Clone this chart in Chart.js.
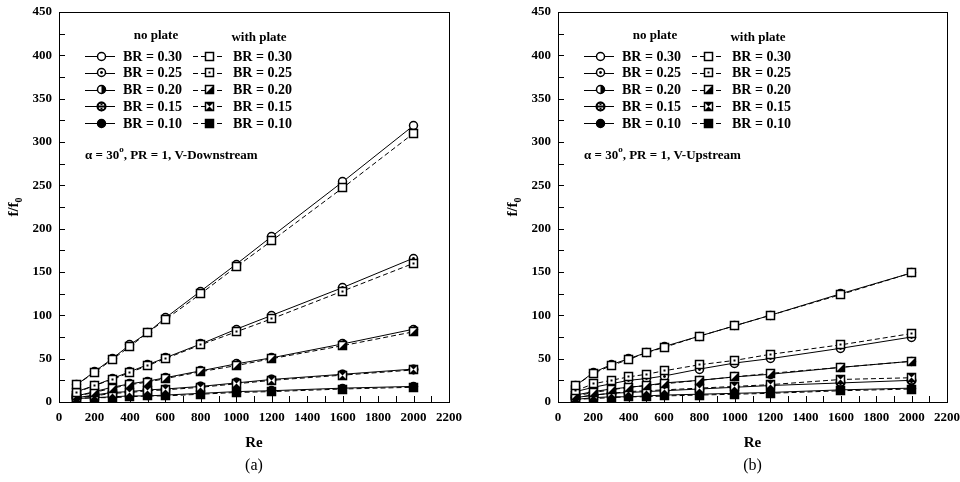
<!DOCTYPE html>
<html>
<head>
<meta charset="utf-8">
<script src="https://cdn.jsdelivr.net/npm/chart.js@4.4.1/dist/chart.umd.min.js"></script>
<style>
  html, body { margin: 0; padding: 0; background: #fff; }
  #wrap { position: relative; width: 960px; height: 482px; }
  .panel { position: absolute; top: 0; width: 480px; height: 482px; }
</style>
</head>
<body>
<div id="wrap">
  <div class="panel" style="left:0"><canvas id="chart-a" width="480" height="482"></canvas></div>
  <div class="panel" style="left:480px"><canvas id="chart-b" width="480" height="482"></canvas></div>
</div>
<script>
// Reynolds numbers (x axis)
const RE = [100, 200, 300, 400, 500, 600, 800, 1000, 1200, 1600, 2000];
const BR_LABELS = ['BR = 0.30', 'BR = 0.25', 'BR = 0.20', 'BR = 0.15', 'BR = 0.10'];
const Y_TICKS = [0, 50, 100, 150, 200, 250, 300, 350, 400, 450];
const X_TICKS = [0, 200, 400, 600, 800, 1000, 1200, 1400, 1600, 1800, 2000, 2200];

// (a) V-Downstream, f/f0
const A_NO_030 = [20, 35, 50, 66, 80, 97, 128, 159, 191, 254, 319];
const A_NO_025 = [12, 19, 27, 35, 43, 51, 67, 84, 100, 132, 166];
const A_NO_020 = [7, 12, 17, 21, 24, 28, 36, 44, 51, 67, 84];
const A_NO_015 = [5, 8, 11, 12, 14, 15, 18, 22, 26, 32, 38];
const A_NO_010 = [4, 5, 6, 7, 7, 8, 10, 12, 13, 16, 18];
const A_WP_030 = [20, 34, 49, 64, 80, 95, 125, 156, 186, 247, 310];
const A_WP_025 = [11, 19, 26, 34, 42, 50, 66, 81, 96, 128, 160];
const A_WP_020 = [7, 11, 16, 20, 23, 27, 35, 42, 50, 65, 81];
const A_WP_015 = [5, 7, 10, 11, 13, 14, 17, 21, 25, 31, 37];
const A_WP_010 = [4, 5, 5, 6, 7, 7, 9, 11, 12, 15, 17];

// (b) V-Upstream, f/f0
const B_NO_030 = [19, 34, 43, 50, 57, 64, 76, 88, 100, 125, 149];
const B_NO_025 = [12, 17, 21, 25, 27, 30, 38, 45, 50, 62, 75];
const B_NO_020 = [8, 12, 15, 17, 19, 22, 25, 29, 32, 40, 47];
const B_NO_015 = [5, 8, 10, 11, 12, 13, 15, 17, 19, 22, 25];
const B_NO_010 = [3, 5, 6, 6, 7, 8, 9, 10, 11, 14, 16];
const B_WP_030 = [19, 33, 42, 49, 57, 63, 76, 88, 100, 124, 149];
const B_WP_025 = [13, 21, 25, 29, 32, 36, 43, 48, 55, 66, 79];
const B_WP_020 = [7, 11, 14, 17, 19, 21, 25, 29, 33, 40, 47];
const B_WP_015 = [5, 8, 10, 12, 13, 14, 16, 18, 20, 26, 28];
const B_WP_010 = [3, 4, 5, 6, 6, 7, 8, 9, 10, 13, 15];

const SERIF = "'Liberation Serif', 'Times New Roman', serif";

// small canvases used as point styles (and reused in the legend)
function makeMarker(kind) {
    const c = document.createElement('canvas');
    c.width = 11; c.height = 11;
    const g = c.getContext('2d');
    const m = 5.5, r = 4;
    g.lineWidth = 1.5;
    g.strokeStyle = '#000';
    g.fillStyle = '#fff';
    if (kind.startsWith('c')) {
        g.beginPath(); g.arc(m, m, r, 0, Math.PI * 2);
        g.fillStyle = kind === 'c-fill' ? '#000' : '#fff';
        g.fill(); g.stroke();
        g.fillStyle = '#000';
        if (kind === 'c-dot') {
            g.beginPath(); g.arc(m, m, 1.4, 0, Math.PI * 2); g.fill();
        } else if (kind === 'c-half') {
            g.beginPath(); g.arc(m, m, r, -Math.PI / 2, Math.PI / 2); g.closePath(); g.fill();
        } else if (kind === 'c-bar') {
            g.lineWidth = 2;
            g.beginPath(); g.arc(m, m, r, 0, Math.PI * 2); g.stroke();
            g.beginPath(); g.moveTo(m - r, m); g.lineTo(m + r, m); g.stroke();
            g.fillRect(m - 1, m - 3, 2, 1.6);
            g.fillRect(m - 1, m + 1.4, 2, 1.6);
        }
    } else {
        const x0 = m - r, s = r * 2;
        g.fillStyle = kind === 's-fill' ? '#000' : '#fff';
        g.fillRect(x0, x0, s, s);
        g.strokeRect(x0, x0, s, s);
        g.fillStyle = '#000';
        if (kind === 's-dot') {
            g.fillRect(m - 1, m - 1, 2, 2);
        } else if (kind === 's-tri') {
            g.beginPath(); g.moveTo(x0 + s, x0); g.lineTo(x0 + s, x0 + s); g.lineTo(x0, x0 + s); g.closePath(); g.fill();
        } else if (kind === 's-bow') {
            g.beginPath(); g.moveTo(x0, x0); g.lineTo(x0 + s, x0); g.lineTo(m, m); g.closePath(); g.fill();
            g.beginPath(); g.moveTo(x0, x0 + s); g.lineTo(x0 + s, x0 + s); g.lineTo(m, m); g.closePath(); g.fill();
        }
    }
    return c;
}

const NO_MARKERS = ['c-open', 'c-dot', 'c-half', 'c-bar', 'c-fill'].map(makeMarker);
const WP_MARKERS = ['s-open', 's-dot', 's-tri', 's-bow', 's-fill'].map(makeMarker);

function series(values, marker, dashed) {
    return {
        data: values.map((v, i) => ({ x: RE[i], y: v })),
        borderColor: '#000',
        borderWidth: 1,
        borderDash: dashed ? [5, 3] : [],
        pointStyle: marker,
        fill: false,
        tension: 0,
    };
}

// draws frame, inward ticks, axis titles, caption, legend and note
const decorPlugin = {
    id: 'decor',
    beforeDatasetsDraw(chart) {
        // keep the marker images crisp at fractional positions
        chart.ctx.imageSmoothingEnabled = false;
    },
    afterDatasetsDraw(chart) {
        chart.ctx.imageSmoothingEnabled = true;
    },
    afterDraw(chart, args, opts) {
        const { ctx, chartArea: a, scales } = chart;
        const xs = scales.x, ys = scales.y;
        ctx.save();
        ctx.strokeStyle = '#000';
        ctx.lineWidth = 1;
        ctx.strokeRect(Math.round(a.left) + 0.5, Math.round(a.top) + 0.5,
            Math.round(a.right - a.left), Math.round(a.bottom - a.top));

        ctx.beginPath();
        for (let v = 0; v <= 450; v += 25) {
            const py = Math.round(ys.getPixelForValue(v)) + 0.5;
            ctx.moveTo(a.left, py); ctx.lineTo(a.left + 6, py);
        }
        for (let v = 0; v <= 2200; v += 100) {
            const px = Math.round(xs.getPixelForValue(v)) + 0.5;
            ctx.moveTo(px, a.bottom); ctx.lineTo(px, a.bottom - 6);
        }
        ctx.stroke();

        ctx.fillStyle = '#000';
        const midX = (a.left + a.right) / 2;
        ctx.textAlign = 'center';
        ctx.textBaseline = 'middle';
        ctx.font = 'bold 15px ' + SERIF;
        ctx.fillText('Re', midX, a.bottom + 41);
        ctx.font = '16px ' + SERIF;
        ctx.fillText(opts.tag, midX, a.bottom + 64);

        // y title f/f0
        ctx.save();
        ctx.translate(a.left - 45, (a.top + a.bottom) / 2);
        ctx.rotate(-Math.PI / 2);
        ctx.font = 'bold 15px ' + SERIF;
        const w1 = ctx.measureText('f/f').width;
        ctx.font = 'bold 10px ' + SERIF;
        const w2 = ctx.measureText('0').width;
        ctx.textAlign = 'left';
        ctx.font = 'bold 15px ' + SERIF;
        ctx.fillText('f/f', -(w1 + w2) / 2, 0);
        ctx.font = 'bold 10px ' + SERIF;
        ctx.fillText('0', -(w1 + w2) / 2 + w1, 5);
        ctx.restore();

        // legend
        const L = a.left, T = a.top;
        ctx.font = 'bold 13px ' + SERIF;
        ctx.textAlign = 'center';
        ctx.fillText('no plate', L + 97, T + 24);
        ctx.fillText('with plate', L + 200, T + 26);
        ctx.textAlign = 'left';
        ctx.font = 'bold 14px ' + SERIF;
        for (let i = 0; i < BR_LABELS.length; i++) {
            const ry = T + 44 + i * 16.8;
            const py = Math.round(ry) + 0.5;
            ctx.setLineDash([]);
            ctx.beginPath(); ctx.moveTo(L + 26, py); ctx.lineTo(L + 56, py); ctx.stroke();
            ctx.setLineDash([5, 3]);
            ctx.beginPath(); ctx.moveTo(L + 134, py); ctx.lineTo(L + 164, py); ctx.stroke();
            ctx.setLineDash([]);
            ctx.drawImage(NO_MARKERS[i], Math.round(L + 42 - 5.5), Math.round(ry - 5.5));
            ctx.drawImage(WP_MARKERS[i], Math.round(L + 150 - 5.5), Math.round(ry - 5.5));
            ctx.fillText(BR_LABELS[i], L + 64, ry + 1);
            ctx.fillText(BR_LABELS[i], L + 174, ry + 1);
        }

        // condition note with superscript degree
        let nx = L + 26;
        const ny = T + 144;
        const parts = [['α = 30', 13, 0], ['o', 9, -6], [', PR = 1, ' + opts.note, 13, 0]];
        for (const [txt, size, dy] of parts) {
            ctx.font = 'bold ' + size + 'px ' + SERIF;
            ctx.fillText(txt, nx, ny + dy);
            nx += ctx.measureText(txt).width;
        }
        ctx.restore();
    }
};

function buildChart(id, noSets, wpSets, tag, note, leftW, rightPad) {
    // with-plate sets first so they are drawn on top
    const datasets = [
        ...wpSets.map((v, i) => series(v, WP_MARKERS[i], true)),
        ...noSets.map((v, i) => series(v, NO_MARKERS[i], false)),
    ];
    const tickFont = { family: SERIF, weight: 'bold', size: 13 };
    return new Chart(document.getElementById(id), {
        type: 'line',
        data: { datasets },
        options: {
            responsive: false,
            animation: false,
            devicePixelRatio: 1,
            layout: { padding: { top: 12, right: rightPad, left: 0, bottom: 0 } },
            plugins: {
                legend: { display: false },
                tooltip: { enabled: false },
                decor: { tag, note },
            },
            scales: {
                x: {
                    type: 'linear', min: 0, max: 2200,
                    afterBuildTicks: s => { s.ticks = X_TICKS.map(v => ({ value: v })); },
                    grid: { display: false, drawTicks: false, tickLength: 0 },
                    border: { display: false },
                    ticks: { font: tickFont, color: '#000', padding: 8, maxRotation: 0, autoSkip: false,
                        callback: v => String(v) },
                    afterFit: s => { s.height = 80; s.paddingLeft = 0; s.paddingRight = 0; },
                },
                y: {
                    type: 'linear', min: 0, max: 450,
                    afterBuildTicks: s => { s.ticks = Y_TICKS.map(v => ({ value: v })); },
                    grid: { display: false, drawTicks: false, tickLength: 0 },
                    border: { display: false },
                    ticks: { font: tickFont, color: '#000', padding: 7, callback: v => String(v) },
                    afterFit: s => { s.width = leftW; s.paddingTop = 0; s.paddingBottom = 0; },
                },
            },
        },
        plugins: [decorPlugin],
    });
}

buildChart('chart-a',
    [A_NO_030, A_NO_025, A_NO_020, A_NO_015, A_NO_010],
    [A_WP_030, A_WP_025, A_WP_020, A_WP_015, A_WP_010],
    '(a)', 'V-Downstream', 59, 31);
buildChart('chart-b',
    [B_NO_030, B_NO_025, B_NO_020, B_NO_015, B_NO_010],
    [B_WP_030, B_WP_025, B_WP_020, B_WP_015, B_WP_010],
    '(b)', 'V-Upstream', 78, 13);
</script>
</body>
</html>
